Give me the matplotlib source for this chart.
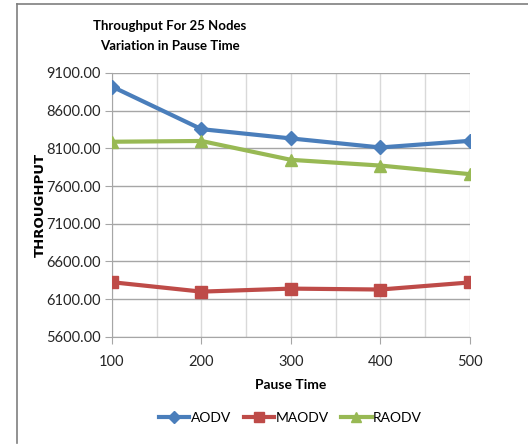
import matplotlib.pyplot as plt
from matplotlib.lines import Line2D

pause_time = [100, 200, 300, 400, 500]
aodv = [8920, 8355, 8232, 8112, 8200]
maodv = [6325, 6200, 6240, 6228, 6322]
raodv = [8188, 8198, 7948, 7872, 7758]
y_ticks = [5600, 6100, 6600, 7100, 7600, 8100, 8600, 9100]

plt.rcParams['font.family'] = ['Lato', 'DejaVu Sans']

fig = plt.figure(figsize=(5.28, 4.45), dpi=100)
ax = fig.add_axes([0.212, 0.243, 0.678, 0.593])

ax.plot(pause_time, aodv, color='#4a7ebb', lw=3, marker='D', ms=7, label='AODV', zorder=3)
ax.plot(pause_time, maodv, color='#be4b48', lw=3, marker='s', ms=8, label='MAODV', zorder=3)
ax.plot(pause_time, raodv, color='#98b954', lw=3, marker='^', ms=8.5, label='RAODV', zorder=3)

ax.set_xlim(100, 500)
ax.set_ylim(5600, 9100)
ax.set_xticks(pause_time)
ax.set_xticks(range(150, 500, 100), minor=True)
ax.set_yticks(y_ticks)
ax.set_yticklabels(['%.2f' % v for v in y_ticks])

ax.grid(axis='y', color='#a6a6a6', lw=1)
ax.grid(axis='x', which='both', color='#d9d9d9', lw=1)
ax.set_axisbelow(True)

for s in ['top', 'right']:
    ax.spines[s].set_visible(False)
ax.spines['left'].set_color('#a6a6a6')
ax.spines['bottom'].set_color('#a6a6a6')
ax.tick_params(axis='both', which='major', color='#a6a6a6', length=5, labelsize=10.5, labelcolor='#262626')
ax.tick_params(axis='x', which='minor', length=0)
ax.tick_params(axis='x', pad=8)
ax.tick_params(axis='y', pad=3)

ax.set_xlabel('Pause Time', fontsize=10, fontweight='bold', labelpad=7)
fig.text(0.076, 0.54, 'THROUGHPUT', rotation=90, fontsize=9.5, fontweight='bold',
         family='DejaVu Sans', ha='center', va='center')

fig.text(0.322, 0.942, 'Throughput For 25 Nodes', fontsize=9.5, fontweight='bold', ha='center', va='center')
fig.text(0.322, 0.897, 'Variation in Pause Time', fontsize=9.5, fontweight='bold', ha='center', va='center')

handles = [Line2D([], [], color='#4a7ebb', lw=3, marker='D', ms=6),
           Line2D([], [], color='#be4b48', lw=3, marker='s', ms=7.5),
           Line2D([], [], color='#98b954', lw=3, marker='^', ms=7.5)]
fig.legend(handles, ['AODV', 'MAODV', 'RAODV'], loc='center', bbox_to_anchor=(0.55, 0.06),
           ncol=3, frameon=False, fontsize=10, handlelength=2.2, handletextpad=0.1,
           columnspacing=0.9)

# outer frame: only top and left edges
fig.add_artist(Line2D([0.032, 1.0], [0.991, 0.991], color='#7f7f7f', lw=1.2))
fig.add_artist(Line2D([0.032, 0.032], [0.991, 0.005], color='#7f7f7f', lw=1.2))

fig.savefig('out.png', dpi=100)
